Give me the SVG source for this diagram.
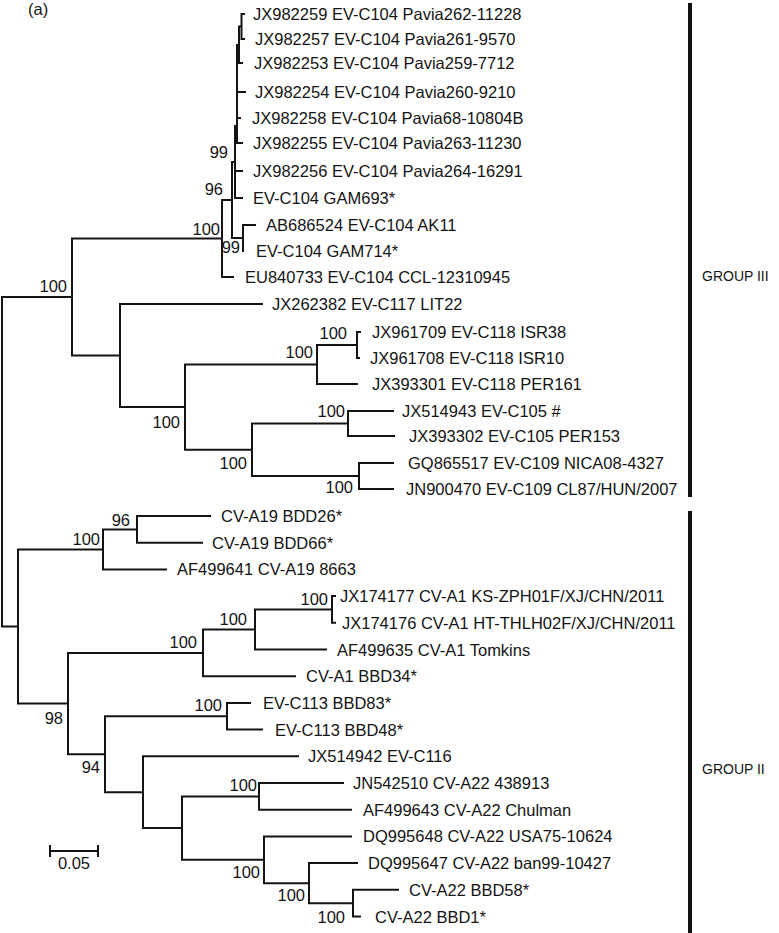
<svg xmlns="http://www.w3.org/2000/svg" width="779" height="933" viewBox="0 0 779 933">
<style>
text{font-family:"Liberation Sans",Arial,Helvetica,sans-serif;fill:#141414}
.lf{font-size:16.5px}
.bs{font-size:16.5px;text-anchor:end}
.gp{font-size:14px}
.br{fill:none;stroke:#141414;stroke-width:2;stroke-linecap:square}
</style>
<rect width="779" height="933" fill="#fff"/>
<text class="lf" x="28" y="15">(a)</text>
<g id="connectors">
<path class="br" d="M2,297 V626.5 M2,297 H72 M72,238.5 V355.6 M72,238.5 H222
M222,200 V277 M222,277 H233 M222,200 H232
M232,162 V238 M232,238 H243 M232,162 H235
M243,225 V251 M243,225 H255
M235,126 V198 M235,198 H242 M235,171 H242 M235,126 H237
M237,45 V143 M237,143 H242 M237,118 H240 M237,92 H245 M237,45 H239
M239,26.5 V63 M239,63 H242 M239,26.5 H241.5
M241.5,14 V39 M241.5,14 H244 M241.5,39 H244
M72,355.6 H120 M120,304 V407.1 M120,304 H262 M120,407.1 H185
M185,364.5 V449.75 M185,364.5 H317 M185,449.75 H252
M317,345 V384 M317,345 H357 M317,384 H357
M357,332 V358 M357,332 H360 M357,358 H359
M252,423.5 V476 M252,423.5 H348 M252,476 H359
M348,411 V436 M348,411 H393 M348,436 H394
M359,463 V489 M359,463 H393 M359,489 H393
M2,626.5 H18 M18,549.4 V703.6 M18,549.4 H103 M18,703.6 H68
M103,529.4 V569.4 M103,529.4 H137 M103,569.4 H166
M137,516 V542.7 M137,516 H210 M137,542.7 H202
M68,652.9 V754.3 M68,652.9 H203 M68,754.3 H105
M203,629.5 V676.2 M203,629.5 H255 M203,676.2 H295
M255,609.5 V649.5 M255,609.5 H332 M255,649.5 H326
M332,596.1 V622.8 M332,596.1 H335 M332,622.8 H335
M105,716.3 V792.2 M105,716.3 H227 M105,792.2 H143
M227,702.9 V729.6 M227,702.9 H250 M227,729.6 H262
M143,756.3 V828.1 M143,756.3 H298 M143,828.1 H182
M182,796.4 V859.8 M182,796.4 H259 M182,859.8 H264
M259,783 V809.7 M259,783 H343 M259,809.7 H351
M264,836.4 V883.2 M264,836.4 H351 M264,883.2 H309
M309,863.1 V903.2 M309,863.1 H357 M309,903.2 H353
M353,889.8 V916.5 M353,889.8 H398 M353,916.5 H360"/>
</g>
<g id="leaves-group-III">
<g id="n-JX982259"><text class="lf" x="253" y="20">JX982259 EV-C104 Pavia262-11228</text></g>
<g id="n-JX982257"><text class="lf" x="255" y="45">JX982257 EV-C104 Pavia261-9570</text></g>
<g id="n-JX982253"><text class="lf" x="254" y="69">JX982253 EV-C104 Pavia259-7712</text></g>
<g id="n-JX982254"><text class="lf" x="255" y="98">JX982254 EV-C104 Pavia260-9210</text></g>
<g id="n-JX982258"><text class="lf" x="252" y="124">JX982258 EV-C104 Pavia68-10804B</text></g>
<g id="n-JX982255"><text class="lf" x="253" y="149">JX982255 EV-C104 Pavia263-11230</text></g>
<g id="n-JX982256"><text class="lf" x="253" y="177">JX982256 EV-C104 Pavia264-16291</text></g>
<g id="n-GAM693"><text class="lf" x="253" y="204">EV-C104 GAM693*</text></g>
<g id="n-AB686524"><text class="lf" x="266" y="231">AB686524 EV-C104 AK11</text></g>
<g id="n-GAM714"><text class="lf" x="256" y="257">EV-C104 GAM714*</text></g>
<g id="n-EU840733"><text class="lf" x="245" y="283">EU840733 EV-C104 CCL-12310945</text></g>
<g id="n-JX262382"><text class="lf" x="272" y="310">JX262382 EV-C117 LIT22</text></g>
<g id="n-JX961709"><text class="lf" x="372" y="338">JX961709 EV-C118 ISR38</text></g>
<g id="n-JX961708"><text class="lf" x="370" y="364">JX961708 EV-C118 ISR10</text></g>
<g id="n-JX393301"><text class="lf" x="372" y="390">JX393301 EV-C118 PER161</text></g>
<g id="n-JX514943"><text class="lf" x="402" y="417">JX514943 EV-C105 #</text></g>
<g id="n-JX393302"><text class="lf" x="409" y="442">JX393302 EV-C105 PER153</text></g>
<g id="n-GQ865517"><text class="lf" x="408" y="469">GQ865517 EV-C109 NICA08-4327</text></g>
<g id="n-JN900470"><text class="lf" x="406" y="495">JN900470 EV-C109 CL87/HUN/2007</text></g>
</g>
<g id="leaves-group-II">
<g id="n-BDD26"><text class="lf" x="221" y="522">CV-A19 BDD26*</text></g>
<g id="n-BDD66"><text class="lf" x="212" y="548.7">CV-A19 BDD66*</text></g>
<g id="n-AF499641"><text class="lf" x="177" y="575.4">AF499641 CV-A19 8663</text></g>
<g id="n-JX174177"><text class="lf" x="340" y="602.1">JX174177 CV-A1 KS-ZPH01F/XJ/CHN/2011</text></g>
<g id="n-JX174176"><text class="lf" x="342" y="628.8">JX174176 CV-A1 HT-THLH02F/XJ/CHN/2011</text></g>
<g id="n-AF499635"><text class="lf" x="337" y="655.5">AF499635 CV-A1 Tomkins</text></g>
<g id="n-BBD34"><text class="lf" x="306" y="682.2">CV-A1 BBD34*</text></g>
<g id="n-BBD83"><text class="lf" x="263" y="708.9">EV-C113 BBD83*</text></g>
<g id="n-BBD48"><text class="lf" x="275" y="735.6">EV-C113 BBD48*</text></g>
<g id="n-JX514942"><text class="lf" x="308" y="762.3">JX514942 EV-C116</text></g>
<g id="n-JN542510"><text class="lf" x="353" y="789">JN542510 CV-A22 438913</text></g>
<g id="n-AF499643"><text class="lf" x="363" y="815.7">AF499643 CV-A22 Chulman</text></g>
<g id="n-DQ995648"><text class="lf" x="363" y="842.4">DQ995648 CV-A22 USA75-10624</text></g>
<g id="n-DQ995647"><text class="lf" x="368" y="869.1">DQ995647 CV-A22 ban99-10427</text></g>
<g id="n-BBD58"><text class="lf" x="409" y="895.8">CV-A22 BBD58*</text></g>
<g id="n-BBD1"><text class="lf" x="375" y="922.5">CV-A22 BBD1*</text></g>
</g>
<g id="bootstrap">
<text class="bs" x="228" y="158">99</text>
<text class="bs" x="223" y="195">96</text>
<text class="bs" x="220" y="235">100</text>
<text class="bs" x="240" y="253">99</text>
<text class="bs" x="67" y="292">100</text>
<text class="bs" x="347" y="339">100</text>
<text class="bs" x="313" y="358">100</text>
<text class="bs" x="345" y="417">100</text>
<text class="bs" x="180" y="428">100</text>
<text class="bs" x="247" y="469">100</text>
<text class="bs" x="353" y="493">100</text>
<text class="bs" x="130" y="526">96</text>
<text class="bs" x="100" y="545">100</text>
<text class="bs" x="328" y="605">100</text>
<text class="bs" x="247" y="625">100</text>
<text class="bs" x="197" y="648">100</text>
<text class="bs" x="222" y="711">100</text>
<text class="bs" x="63" y="724">98</text>
<text class="bs" x="100" y="773">94</text>
<text class="bs" x="257" y="791">100</text>
<text class="bs" x="260" y="878">100</text>
<text class="bs" x="305" y="901">100</text>
<text class="bs" x="345" y="923">100</text>
</g>
<g id="scale-bar">
<path class="br" d="M50,851 H98 M50,846 V856 M98,846 V856"/>
<text class="lf" x="74" y="869" text-anchor="middle">0.05</text>
</g>
<g id="group-III">
<rect x="688" y="3" width="4" height="494" fill="#111"/>
<text class="gp" x="702" y="281">GROUP III</text>
</g>
<g id="group-II">
<rect x="688" y="511" width="4" height="422" fill="#111"/>
<text class="gp" x="702" y="774">GROUP II</text>
</g>
</svg>
